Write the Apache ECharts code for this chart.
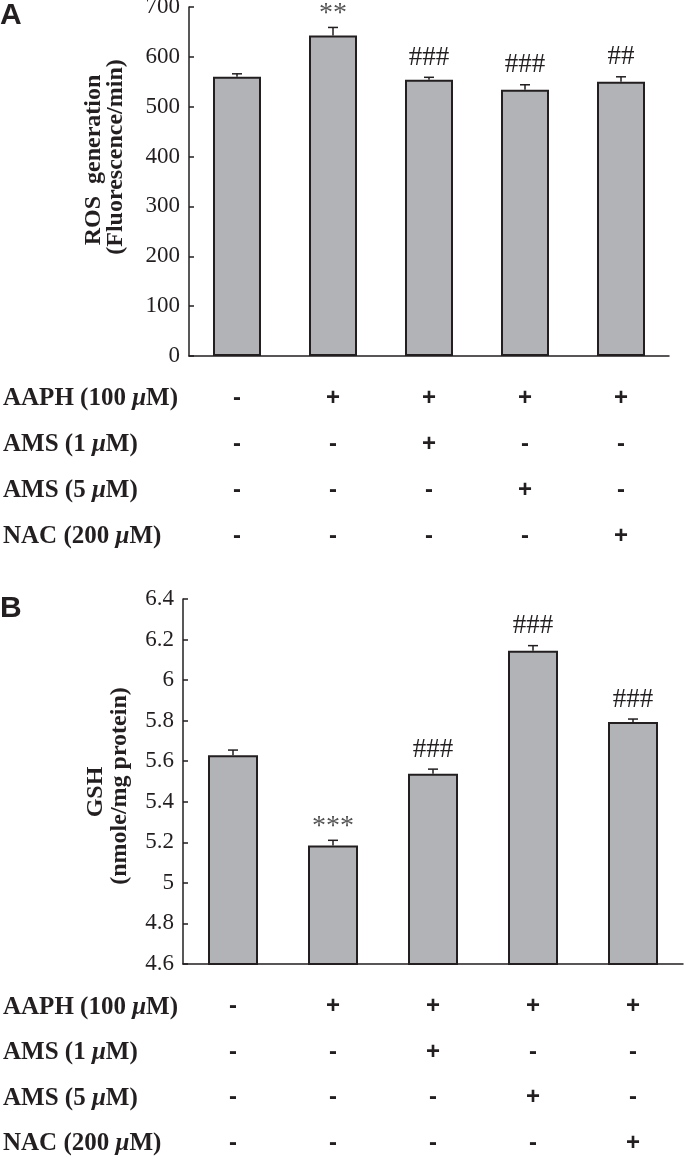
<!DOCTYPE html>
<html>
<head>
<meta charset="utf-8">
<script src="https://cdn.jsdelivr.net/npm/echarts@6/dist/echarts.min.js"></script>
<style>
    html, body { margin: 0; padding: 0; background: #fff; }
    #chart { width: 688px; height: 1158px; }
</style>
</head>
<body>
<div id="chart"></div>
<script>
// 处理组
const groups = ['Control', 'AAPH', 'AAPH+AMS1', 'AAPH+AMS5', 'AAPH+NAC']

// A: ROS generation
const rosMean = [560, 643, 554, 534, 550]
const rosErr = [6, 16, 5, 10, 10]
const rosMarks = ['', '**', '###', '###', '##']

// B: GSH
const gshMean = [5.63, 5.185, 5.538, 6.145, 5.793]
const gshErr = [0.025, 0.025, 0.023, 0.025, 0.015]
const gshMarks = ['', '***', '###', '###', '###']

// 表格行 (+/-)
const rowNames = ['AAPH', 'AMS', 'AMS', 'NAC']
const rowDoses = ['100', '1', '5', '200']
const rowAAPH = ['-', '+', '+', '+', '+']
const rowAMS1 = ['-', '-', '+', '-', '-']
const rowAMS5 = ['-', '-', '-', '+', '-']
const rowNAC = ['-', '-', '-', '-', '+']
const signRows = [rowAAPH, rowAMS1, rowAMS5, rowNAC]

const ink = '#231f20'
const serif = '"Liberation Serif", "Times New Roman", serif'

const chart = echarts.init(document.getElementById('chart'))

// 误差线 + 显著性标记
const errorSeries = (idx, mean, err, marks) => ({
    type: 'custom',
    xAxisIndex: idx,
    yAxisIndex: idx,
    z: 5,
    data: mean.map((v, i) => [i, v, err[i]]),
    renderItem: function (params, api) {
        const i = api.value(0)
        const base = api.coord([i, api.value(1)])
        const top = api.coord([i, api.value(1) + api.value(2)])
        const cap = 5
        const mark = marks[params.dataIndex]
        const star = mark.indexOf('*') >= 0
        return {
            type: 'group',
            children: [
                { type: 'line', shape: { x1: top[0], y1: base[1], x2: top[0], y2: top[1] }, style: { stroke: ink, lineWidth: 1.5 } },
                { type: 'line', shape: { x1: top[0] - cap, y1: top[1], x2: top[0] + cap, y2: top[1] }, style: { stroke: ink, lineWidth: 1.5 } },
                {
                    type: 'text',
                    x: top[0],
                    y: top[1] - (star ? 0 : 6),
                    style: {
                        text: mark,
                        align: 'center',
                        verticalAlign: 'bottom',
                        font: (star ? '28px ' : '27px ') + serif,
                        fill: star ? '#555' : ink,
                    },
                },
            ],
        }
    },
})

const xAxisOf = (gridIndex, lineHeight, margin) => ({
    type: 'category',
    gridIndex: gridIndex,
    data: groups,
    axisLine: { lineStyle: { color: ink, width: 1.5 } },
    axisTick: { inside: true, length: 7, lineStyle: { color: ink, width: 1.5 } },
    axisLabel: {
        interval: 0,
        margin: margin,
        lineHeight: lineHeight,
        fontSize: 24,
        fontWeight: 'bold',
        fontFamily: '"Liberation Sans", Arial, sans-serif',
        color: ink,
        formatter: (val, idx) => signRows.map(r => r[idx]).join('\n'),
    },
})

const yAxisOf = (gridIndex, min, max, interval) => ({
    type: 'value',
    gridIndex: gridIndex,
    min: min,
    max: max,
    interval: interval,
    splitLine: { show: false },
    axisLine: { show: true, lineStyle: { color: ink, width: 1.5 } },
    axisTick: { show: true, inside: true, length: 5, lineStyle: { color: ink, width: 1.5 } },
    axisLabel: { fontSize: 23, fontFamily: serif, color: ink, margin: 9, padding: [4, 0, 0, 0] },
})

const barSeries = (idx, data) => ({
    type: 'bar',
    xAxisIndex: idx,
    yAxisIndex: idx,
    barWidth: '50%',
    data: data,
    itemStyle: { color: '#b2b3b7', borderColor: ink, borderWidth: 2 },
})

// 行标签 (左侧)
const rowLabels = (yStart, step) => rowNames.map((n, i) => ({
    type: 'text',
    left: 3,
    top: yStart + i * step - 12,
    style: {
        text: '{b|' + n + ' (' + rowDoses[i] + ' }{mu|\u03bc}{b|M)}',
        rich: {
            b: { font: 'bold 25px ' + serif, fill: ink },
            mu: { font: 'italic bold 25px ' + serif, fill: ink },
        },
    },
}))

const axisTitle = (cx, cy, text) => ({
    type: 'text',
    x: cx,
    y: cy,
    rotation: Math.PI / 2,
    style: {
        text: text,
        align: 'center',
        verticalAlign: 'middle',
        font: 'bold 24px ' + serif,
        fill: ink,
    },
})

chart.setOption({
    animation: false,
    grid: [
        { left: 189, top: 7, width: 480, height: 349, outerBoundsMode: 'none' },
        { left: 183, top: 599, width: 500, height: 365, outerBoundsMode: 'none' },
    ],
    xAxis: [xAxisOf(0, 46, 19), xAxisOf(1, 45.5, 20)],
    yAxis: [yAxisOf(0, 0, 700, 100), yAxisOf(1, 4.6, 6.4, 0.2)],
    series: [
        barSeries(0, rosMean),
        errorSeries(0, rosMean, rosErr, rosMarks),
        barSeries(1, gshMean),
        errorSeries(1, gshMean, gshErr, gshMarks),
    ],
    graphic: [
        { type: 'text', left: 0, top: 1, style: { text: 'A', font: 'bold 30px "Liberation Sans", Arial, sans-serif', fill: ink } },
        { type: 'text', left: 0, top: 594, style: { text: 'B', font: 'bold 30px "Liberation Sans", Arial, sans-serif', fill: ink } },
        axisTitle(94, 160, 'ROS  generation'),
        axisTitle(116, 157, '(Fluorescence/min)'),
        axisTitle(96, 792, 'GSH'),
        axisTitle(120, 786, '(nmole/mg protein)'),
        ...rowLabels(398, 46),
        ...rowLabels(1007, 45.5),
    ],
})
</script>
</body>
</html>
